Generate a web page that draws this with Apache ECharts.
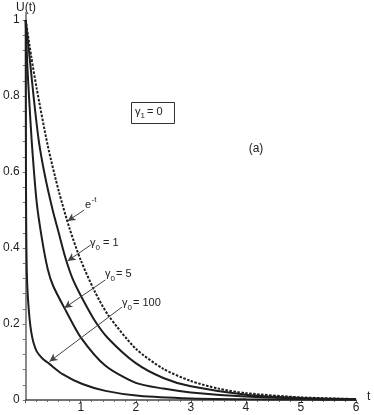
<!DOCTYPE html>
<html><head><meta charset="utf-8">
<script src="https://cdn.jsdelivr.net/npm/echarts@6/dist/echarts.min.js"></script>
<style>html,body{margin:0;padding:0;background:#fff}#c{width:374px;height:415px}</style>
</head><body><div id="c"></div>
<script>
const xTickLabels = [1, 2, 3, 4, 5, 6];
const yTickLabels = [0, 0.2, 0.4, 0.6, 0.8, 1];
const yTickMarks = [0,0.04,0.08,0.12,0.16,0.2,0.24,0.28,0.32,0.36,0.4,0.44,0.48,0.52,0.56,0.6,0.64,0.68,0.72,0.76,0.8,0.84,0.88,0.92,0.96,1];

const tExp = [0,0.1,0.2,0.4,0.6,0.8,1,1.25,1.5,2,2.5,3,3.5,4,5,6];
const uExp = [1,0.905,0.82,0.67,0.55,0.45,0.368,0.287,0.223,0.135,0.082,0.05,0.03,0.018,0.007,0.0025];

const tG1 = [0,0.04,0.08,0.15,0.24,0.35,0.49,0.6,0.72,0.85,1,1.25,1.5,2,2.5,3,4,5,6];
const uG1 = [1,0.945,0.89,0.79,0.68,0.59,0.5,0.44,0.375,0.32,0.275,0.21,0.162,0.097,0.058,0.036,0.014,0.0055,0.0025];

const tG5 = [0,0.03,0.06,0.11,0.2,0.3,0.4,0.5,0.73,1,1.45,2,2.5,3,4,5,6];
const uG5 = [1,0.88,0.8,0.68,0.52,0.42,0.345,0.3,0.235,0.165,0.09,0.045,0.03,0.02,0.009,0.004,0.002];

const tG100 = [0,0.002,0.005,0.01,0.02,0.04,0.07,0.1,0.14,0.2,0.3,0.43,0.67,1.03,1.45,2.05,3,4,5,6];
const uG100 = [1,0.8,0.6,0.45,0.34,0.27,0.215,0.18,0.152,0.128,0.11,0.095,0.068,0.042,0.024,0.011,0.004,0.002,0.001,0.0005];

const pairs = (t, u) => t.map((v, i) => [v, u[i]]);

const FONT = 'Liberation Sans, Arial, sans-serif';
const TXT = '#222';

const chart = echarts.init(document.getElementById('c'), null, {renderer: 'canvas'});

const arrowLines = [
  [[1.063, 0.5], [0.762, 0.471]],
  [[1.182, 0.408], [0.762, 0.366]],
  [[1.447, 0.316], [0.703, 0.242]],
  [[1.753, 0.245], [0.432, 0.101]]
];

function txt(x, y, s, size, align) {
  return {type: 'text', x: x, y: y, silent: true,
    style: {text: s, fontSize: size, fontFamily: FONT, fill: TXT,
      align: align || 'left', verticalAlign: 'middle',
      textAlign: align || 'left', textVerticalAlign: 'middle'}};
}

const lineStyleBase = {color: '#1e1e1e', width: 2};
const SM = 0.25;

chart.setOption({
  animation: false,
  backgroundColor: '#fff',
  grid: {left: 23, right: 18, top: 12.4, bottom: 15, containLabel: false},
  xAxis: {
    type: 'value', min: 0, max: 6, interval: 1,
    axisLine: {show: true, onZero: false, lineStyle: {color: '#444', width: 1.5}},
    axisTick: {show: true, inside: false, length: 3, lineStyle: {color: '#555'}},
    minorTick: {show: true, splitNumber: 5, length: 2, lineStyle: {color: '#666'}},
    splitLine: {show: false},
    axisLabel: {show: true, margin: 2, fontSize: 12, fontFamily: FONT, color: TXT,
      customValues: xTickLabels}
  },
  yAxis: {
    type: 'value', min: 0, max: 1.02,
    axisLine: {show: true, onZero: false, lineStyle: {color: '#8a8a8a', width: 2}},
    axisTick: {show: true, inside: false, length: 3, lineStyle: {color: '#777'}, customValues: yTickMarks},
    minorTick: {show: false},
    splitLine: {show: false},
    axisLabel: {show: true, margin: 6, fontSize: 12, fontFamily: FONT, color: TXT,
      customValues: yTickLabels, formatter: v => String(+v.toFixed(2))}
  },
  series: [
    {type: 'line', name: 'exp', data: pairs(tExp, uExp), showSymbol: false, smooth: SM,
      lineStyle: Object.assign({}, lineStyleBase, {type: [2.5, 1.5]}), z: 3,
      markLine: {silent: true, symbol: ['none', 'arrow'], symbolSize: [6, 8], animation: false,
        label: {show: false}, lineStyle: {color: '#444', width: 1, type: 'solid'},
        data: arrowLines.map(a => [{coord: a[0]}, {coord: a[1]}])}},
    {type: 'line', name: 'g1', data: pairs(tG1, uG1), showSymbol: false, smooth: SM, lineStyle: lineStyleBase},
    {type: 'line', name: 'g5', data: pairs(tG5, uG5), showSymbol: false, smooth: SM, lineStyle: lineStyleBase},
    {type: 'line', name: 'g100', data: pairs(tG100, uG100), showSymbol: false, smooth: SM, lineStyle: lineStyleBase}
  ],
  graphic: [
    txt(16, 8, 'U(t)', 12),
    txt(367, 397, 't', 12),
    txt(256, 149, '(a)', 12, 'center'),
    {type: 'rect', shape: {x: 131.5, y: 102.5, width: 43, height: 21}, silent: true,
      style: {fill: '#fff', stroke: '#333', lineWidth: 1}},
    txt(135, 112, 'γ', 11), txt(140.5, 116, '1', 8), txt(147, 112, '= 0', 11),
    txt(85, 205, 'e', 11), txt(91.5, 200, '-t', 8),
    txt(90, 243, 'γ', 11), txt(95.5, 247.5, '0', 8), txt(103, 243, '= 1', 11),
    txt(105, 274, 'γ', 11), txt(110.5, 278.5, '0', 8), txt(116, 274, '= 5', 11),
    txt(122, 303, 'γ', 11), txt(127.5, 307.5, '0', 8), txt(133, 303, '= 100', 11)
  ]
});
</script></body></html>
